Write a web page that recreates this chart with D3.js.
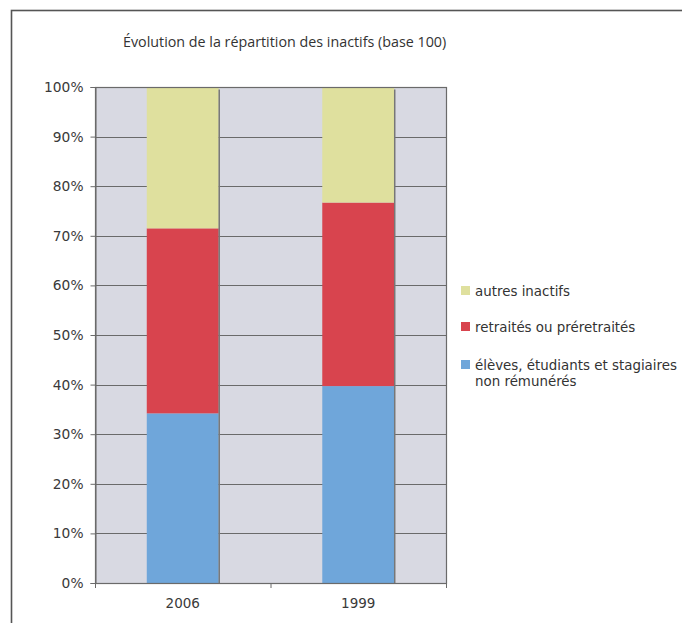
<!DOCTYPE html>
<html>
<head>
<meta charset="utf-8">
<script src="https://cdn.jsdelivr.net/npm/d3@7"></script>
<style>
  html, body { margin: 0; padding: 0; background: #fff; }
  svg { display: block; }
</style>
</head>
<body>
<svg id="chart" width="682" height="623"></svg>
<script>
// Share of each inactive group, in percent, per year
const categories = ["2006", "1999"];
const eleves = [34.2, 39.7];
const retraites = [37.3, 37.0];
const autres = [28.5, 23.3];
const seriesNames = ["élèves, étudiants et stagiaires non rémunérés", "retraités ou préretraités", "autres inactifs"];
const yTicks = [0, 10, 20, 30, 40, 50, 60, 70, 80, 90, 100];
const title = "Évolution de la répartition des inactifs (base 100)";

const colors = ["#6fa6da", "#d8444e", "#dfe09e"];
const labelFont = "'DejaVu Sans', Verdana, sans-serif";

const svg = d3.select("#chart");
const plot = { left: 95, right: 446, top: 87, bottom: 583 };

// outer frame
svg.append("rect")
  .attr("x", 11.5).attr("y", 10.5)
  .attr("width", 720).attr("height", 700)
  .attr("fill", "#fff")
  .attr("stroke", "#555").attr("stroke-width", 1.6);

svg.append("text")
  .attr("x", 123).attr("y", 47)
  .attr("font-family", "'Open Sans', sans-serif")
  .attr("font-size", 14.3)
  .attr("fill", "#333")
  .text(title);

const x = d3.scaleBand().domain(categories).range([plot.left, plot.right]).paddingInner(0.59).paddingOuter(0.295);
const y = d3.scaleLinear().domain([0, 100]).range([plot.bottom, plot.top]);

// plot background
svg.append("rect")
  .attr("x", plot.left).attr("y", plot.top)
  .attr("width", plot.right - plot.left).attr("height", plot.bottom - plot.top)
  .attr("fill", "#d8d9e2");

// gridlines
svg.append("g").selectAll("line").data(yTicks.slice(1)).join("line")
  .attr("x1", plot.left).attr("x2", plot.right)
  .attr("y1", d => Math.round(y(d)) + 0.5).attr("y2", d => Math.round(y(d)) + 0.5)
  .attr("stroke", "#6a6a6a").attr("stroke-width", 1);

// stacked bars
const rows = categories.map((c, i) => ({ cat: c, s0: eleves[i], s1: retraites[i], s2: autres[i] }));
const stack = d3.stack().keys(["s0", "s1", "s2"])(rows);

svg.append("g").selectAll("g").data(stack).join("g")
  .attr("fill", (d, i) => colors[i])
  .selectAll("rect").data(d => d).join("rect")
  .attr("x", d => x(d.data.cat))
  .attr("width", x.bandwidth())
  .attr("y", d => y(d[1]))
  .attr("height", d => y(d[0]) - y(d[1]));

// dark edge on the right side of each bar
svg.append("g").selectAll("line").data(rows).join("line")
  .attr("x1", d => x(d.cat) + x.bandwidth() + 0.5)
  .attr("x2", d => x(d.cat) + x.bandwidth() + 0.5)
  .attr("y1", y(99.5)).attr("y2", plot.bottom)
  .attr("stroke", "#777").attr("stroke-width", 1.5);

// plot border
svg.append("rect")
  .attr("x", plot.left + 0.5).attr("y", plot.top + 0.5)
  .attr("width", plot.right - plot.left).attr("height", plot.bottom - plot.top)
  .attr("fill", "none").attr("stroke", "#6a6a6a").attr("stroke-width", 1.2);

// y axis
const yAxis = d3.axisLeft(y).tickValues(yTicks).tickSize(5).tickFormat(d => d + "%");
const gy = svg.append("g").attr("transform", `translate(${plot.left + 0.5},0)`).call(yAxis);
gy.select(".domain").attr("stroke", "#6a6a6a");
gy.selectAll(".tick line").attr("stroke", "#6a6a6a");
gy.selectAll(".tick text")
  .attr("font-family", labelFont)
  .attr("font-size", 13.8).attr("fill", "#3a3a3a").attr("x", -12);

// x axis
const xAxis = d3.axisBottom(x).tickSize(0).tickPadding(15);
const gx = svg.append("g").attr("transform", `translate(0,${plot.bottom + 0.5})`).call(xAxis);
gx.select(".domain").remove();
gx.selectAll(".tick text")
  .attr("font-family", labelFont)
  .attr("font-size", 13.5).attr("fill", "#3a3a3a");
// category separators below the axis
const seps = [plot.left, (x("2006") + x.bandwidth() + x("1999")) / 2, plot.right];
svg.append("g").selectAll("line").data(seps).join("line")
  .attr("x1", d => d + 0.5).attr("x2", d => d + 0.5)
  .attr("y1", plot.bottom).attr("y2", plot.bottom + 5)
  .attr("stroke", "#6a6a6a");

// legend (top entry = top of stack)
const legendItems = [
  { lines: ["autres inactifs"], color: colors[2], y: 291 },
  { lines: ["retraités ou préretraités"], color: colors[1], y: 327 },
  { lines: ["élèves, étudiants et stagiaires", "non rémunérés"], color: colors[0], y: 365 }
];
const lg = svg.append("g").selectAll("g").data(legendItems).join("g");
lg.append("rect")
  .attr("x", 461).attr("y", d => d.y - 5)
  .attr("width", 9).attr("height", 9)
  .attr("fill", d => d.color);
lg.append("text")
  .attr("font-family", labelFont)
  .attr("font-size", 13.4).attr("fill", "#333")
  .selectAll("tspan").data(d => d.lines.map((l, i) => ({ l, i, y: d.y }))).join("tspan")
  .attr("x", 475).attr("y", d => d.y + 4.5 + d.i * 16)
  .text(d => d.l);
</script>
</body>
</html>
